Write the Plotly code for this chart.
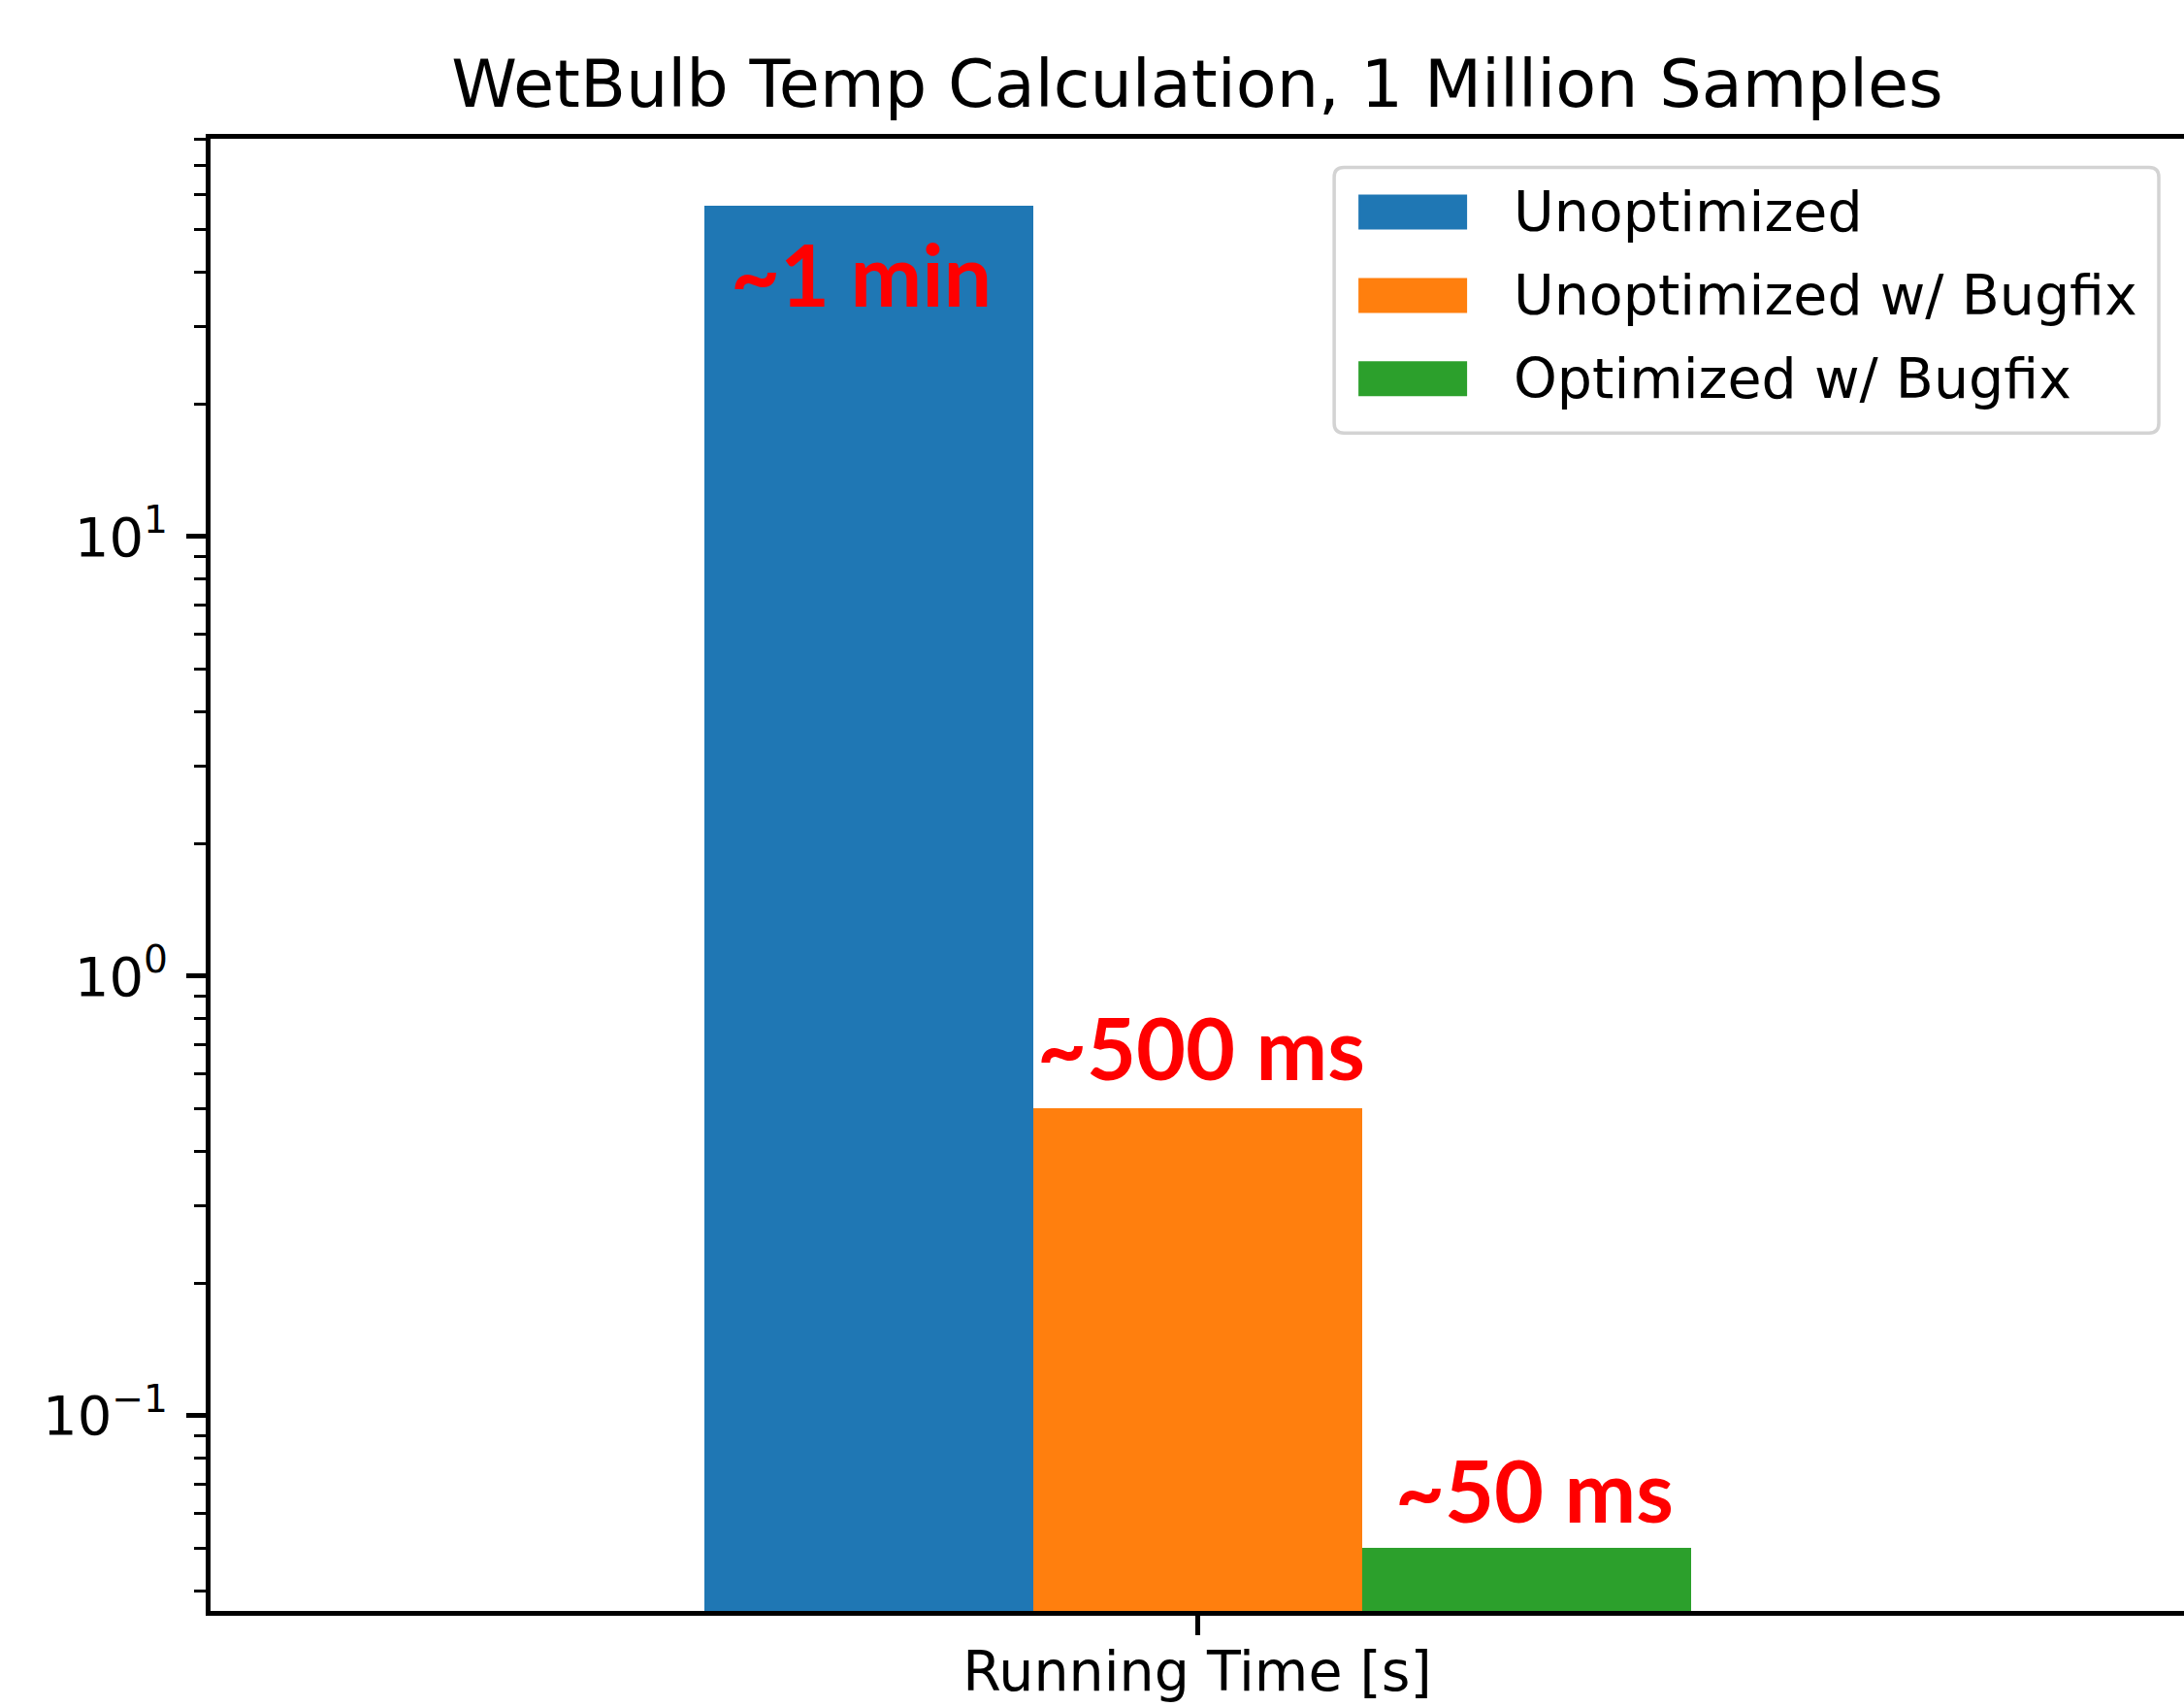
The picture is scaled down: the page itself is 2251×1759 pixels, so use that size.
import math
import plotly.graph_objects as go

# ---- data ----
category = ["Running Time [s]"]
series_names = ["Unoptimized", "Unoptimized w/ Bugfix", "Optimized w/ Bugfix"]
series_values = [56.5, 0.5, 0.05]
series_colors = ["#1f77b4", "#ff7f0e", "#2ca02c"]
bar_labels = ["~1 min", "~500 ms", "~50 ms"]
y_tick_vals = [0.1, 1, 10]
y_tick_text = ["10<sup>\u22121</sup>", "10<sup>0</sup>", "10<sup>1</sup>"]
title_text = "WetBulb Temp Calculation, 1 Million Samples"

W, H = 2251, 1759
ML, MR, MT, MB = 216.7, 0, 142.5, 98.5
PW, PH = W - ML - MR, H - MT - MB

fig = go.Figure()
for name, val, col in zip(series_names, series_values, series_colors):
    fig.add_trace(go.Bar(x=category, y=[val], name=name, marker=dict(color=col, line=dict(width=0)),
                         showlegend=False))

minor_vals = []
for dec in [0.01, 0.1, 1, 10]:
    for k in range(2, 10):
        minor_vals.append(k * dec)

fig.update_layout(
    width=W, height=H,
    margin=dict(l=ML, r=MR, t=MT, b=MB, pad=0, autoexpand=False),
    paper_bgcolor="white", plot_bgcolor="white",
    barmode="group", bargap=0, bargroupgap=0,
    font=dict(family="DejaVu Sans", color="black", size=56),
    title=dict(text=title_text, x=0.5, xref="paper", xanchor="center",
               y=1, yref="paper", yanchor="bottom", pad=dict(b=33),
               font=dict(family="DejaVu Sans", size=68.5, color="black")),
    xaxis=dict(type="category", range=[-1, 1], showgrid=False, zeroline=False, automargin=False,
               showline=True, linecolor="black", linewidth=4.5, mirror=True,
               ticks="outside", ticklen=20, tickwidth=4.5, tickcolor="black",
               ticklabelstandoff=-11,
               tickfont=dict(size=57, family="DejaVu Sans", color="black")),
    yaxis=dict(type="log", range=[-1.444, 1.905], showgrid=False, zeroline=False, automargin=False,
               showline=True, linecolor="black", linewidth=4.5, mirror=False,
               tickmode="array", tickvals=y_tick_vals, ticktext=y_tick_text,
               ticks="outside", ticklen=20, tickwidth=4.5, tickcolor="black",
               ticklabelstandoff=8,
               tickfont=dict(size=56, family="DejaVu Sans", color="black"),
               minor=dict(tickmode="array", tickvals=minor_vals, ticks="outside",
                          ticklen=12, tickwidth=3.4, tickcolor="black", showgrid=False)),
)

# value labels on bars
xshifts = [-8, 4, 8]
yshifts = [-70, 63, 60]
n = len(series_values)
for i, (lab, val) in enumerate(zip(bar_labels, series_values)):
    xc = -0.5 + (i + 0.5) / n
    fig.add_annotation(x=xc, y=math.log10(val), xref="x", yref="y", text="<b>%s</b>" % lab,
                       showarrow=False, xanchor="center", yanchor="middle",
                       xshift=xshifts[i], yshift=yshifts[i],
                       font=dict(family="Lato", size=88, color="#ff0000"))

# custom legend (matplotlib-like)
def px_x(p):
    return (p - ML) / PW

def px_y(p):
    return (H - MB - p) / PH

lx0, lx1, ly0, ly1 = 1375, 2225, 172, 446
r = 10
path = ("M {a},{b} L {c},{b} Q {d},{b} {d},{e} L {d},{f} Q {d},{g} {c},{g} "
        "L {a},{g} Q {h},{g} {h},{f} L {h},{e} Q {h},{b} {a},{b} Z").format(
    a=px_x(lx0 + r), b=px_y(ly0), c=px_x(lx1 - r), d=px_x(lx1), e=px_y(ly0 + r),
    f=px_y(ly1 - r), g=px_y(ly1), h=px_x(lx0))
fig.add_shape(type="path", path=path, xref="paper", yref="paper",
              line=dict(color="#d3d3d3", width=3.5), fillcolor="rgba(255,255,255,0.8)", layer="above")

row_centers = [218, 304, 390]
for name, col, rc in zip(series_names, series_colors, row_centers):
    fig.add_shape(type="rect", xref="paper", yref="paper",
                  x0=px_x(1400), x1=px_x(1512), y0=px_y(rc + 18), y1=px_y(rc - 18),
                  line=dict(width=0), fillcolor=col, layer="above")
    fig.add_annotation(xref="paper", yref="paper", x=px_x(1558), y=px_y(rc), text=name,
                       showarrow=False, xanchor="left", yanchor="middle",
                       font=dict(family="DejaVu Sans", size=57, color="black"))

fig.write_html("out.html", config={"displayModeBar": False},
               post_script="document.body.style.margin='0';"
                           "document.documentElement.style.overflow='hidden';"
                           "document.body.style.overflow='hidden';")
